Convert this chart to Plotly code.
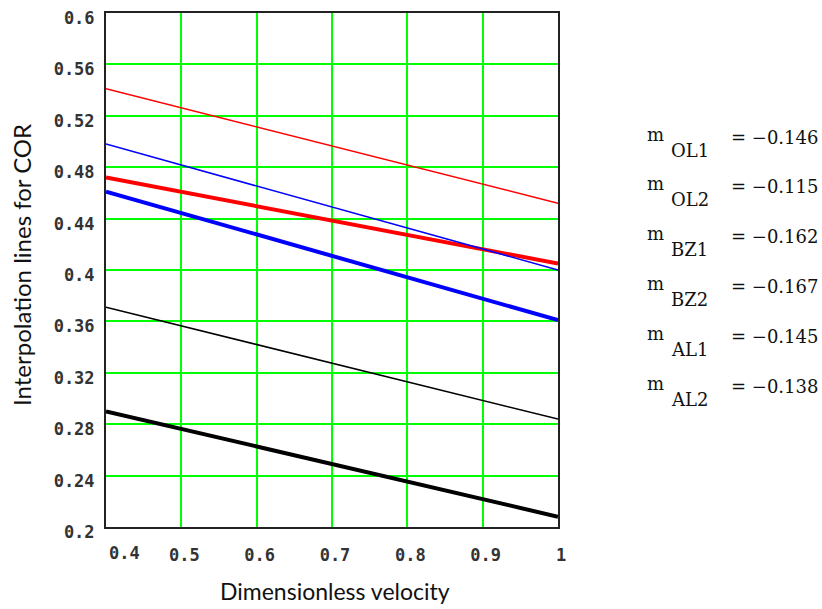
import plotly.graph_objects as go

# ---- data ----
x_vals = [0.4, 1.0]
series_names = ["OL1", "OL2", "BZ1", "BZ2", "AL1", "AL2"]
ol1 = [0.541, 0.452]
ol2 = [0.472, 0.405]
bz1 = [0.498, 0.400]
bz2 = [0.461, 0.361]
al1 = [0.371, 0.284]
al2 = [0.290, 0.208]
slopes = ["−0.146", "−0.115", "−0.162", "−0.167", "−0.145", "−0.138"]

x_ticks = [0.4, 0.5, 0.6, 0.7, 0.8, 0.9, 1.0]
x_ticktext = ["0.4", "0.5", "0.6", "0.7", "0.8", "0.9", "1"]
y_ticks = [0.2, 0.24, 0.28, 0.32, 0.36, 0.4, 0.44, 0.48, 0.52, 0.56, 0.6]
y_ticktext = ["0.2", "0.24", "0.28", "0.32", "0.36", "0.4", "0.44", "0.48", "0.52", "0.56", "0.6"]

series = [ol1, ol2, bz1, bz2, al1, al2]
colors = ["#ff0000", "#ff0000", "#0000ff", "#0000ff", "#000000", "#000000"]
widths = [1.5, 4, 1.5, 4, 1.5, 4]

fig = go.Figure()
for name, ys, c, w in zip(series_names, series, colors, widths):
    fig.add_trace(go.Scatter(x=x_vals, y=ys, mode="lines", name=name,
                             line=dict(color=c, width=w), showlegend=False))

W, H = 822, 609
L, R, T, B = 106, 558, 13, 527  # plot area in pixels

def px(xp):
    return (xp - L) / (R - L)

def py(yp):
    return (B - yp) / (B - T)

tickfont = dict(family="DejaVu Sans Mono", size=17, color="#333333", weight="bold")

# first x tick label sits inset from the frame edge in the original -> drawn as annotation
x_ticktext_axis = [""] + x_ticktext[1:]

fig.update_layout(
    width=W, height=H,
    margin=dict(l=L, r=W - R, t=T, b=H - B, pad=0),
    paper_bgcolor="white", plot_bgcolor="white",
    xaxis=dict(range=[0.4, 1.0], tickvals=x_ticks, ticktext=x_ticktext_axis,
               showgrid=True, gridcolor="#00ff00", gridwidth=2, automargin=False,
               ticklabeloverflow="allow", ticklabelshift=3,
               zeroline=False, showline=True, linecolor="#222222", linewidth=2,
               mirror=True, ticks="", tickfont=tickfont, ticklabelstandoff=12),
    yaxis=dict(range=[0.2, 0.6], tickvals=y_ticks, ticktext=y_ticktext,
               showgrid=True, gridcolor="#00ff00", gridwidth=2, automargin=False,
               ticklabeloverflow="allow", ticklabelshift=5,
               zeroline=False, showline=True, linecolor="#222222", linewidth=2,
               mirror=True, ticks="", tickfont=tickfont, ticklabelstandoff=6),
)

ann = []
ann.append(dict(text=x_ticktext[0], x=px(124), y=py(553), xref="paper", yref="paper",
                showarrow=False, xanchor="center", yanchor="middle", font=tickfont))
ann.append(dict(text="Dimensionless velocity", x=px(335), y=py(591), xref="paper", yref="paper",
                showarrow=False, xanchor="center", yanchor="middle",
                font=dict(family="Lato", size=23, color="#111111")))
ann.append(dict(text="Interpolation lines for COR", x=px(21), y=py(265), xref="paper", yref="paper",
                showarrow=False, xanchor="center", yanchor="middle", textangle=-90,
                font=dict(family="Lato", size=24, color="#111111")))

serif = "DejaVu Serif"
sfont = dict(family=serif, size=18, color="#111111")
for i, (nm, s) in enumerate(zip(series_names, slopes)):
    yc = 137 + i * 49.8
    ann.append(dict(text="m", x=px(645), y=py(yc - 3), xref="paper", yref="paper",
                    showarrow=False, xanchor="left", yanchor="middle", font=sfont))
    ann.append(dict(text=nm, x=px(669), y=py(yc + 13), xref="paper", yref="paper",
                    showarrow=False, xanchor="left", yanchor="middle", font=sfont))
    ann.append(dict(text="= " + s, x=px(820), y=py(yc), xref="paper", yref="paper",
                    showarrow=False, xanchor="right", yanchor="middle", font=sfont))

fig.update_layout(annotations=ann)
fig.write_html(
    "out.html",
    config={"displayModeBar": False},
    post_script=("document.body.style.margin='0';"
                 "document.body.style.overflow='hidden';"
                 "document.documentElement.style.overflow='hidden';"),
)
